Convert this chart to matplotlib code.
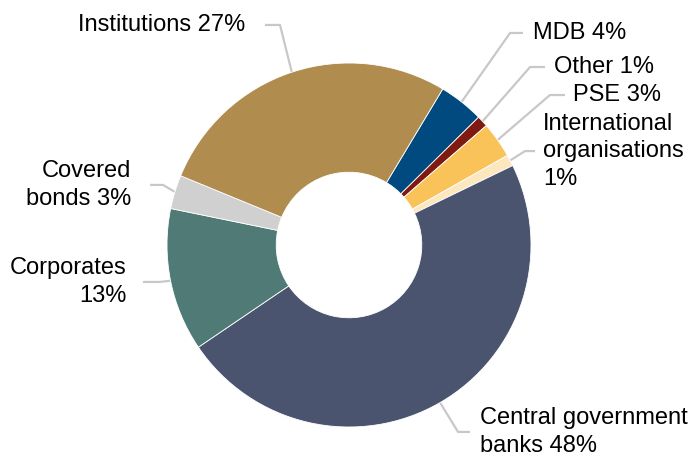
import numpy as np
from matplotlib import pyplot as plt

plt.rcParams['font.family'] = ['Liberation Sans', 'DejaVu Sans']

# clockwise from the top-right
categories = ['MDB', 'Other', 'PSE', 'International organisations', 'Central government banks',
              'Corporates', 'Covered bonds', 'Institutions']
shares = [4.0, 1.0, 3.2, 1.0, 47.7, 12.7, 3.0, 27.4]
labels = ['MDB 4%', 'Other 1%', 'PSE 3%', 'International\norganisations\n1%', 'Central government\nbanks 48%',
          'Corporates\n13%', 'Covered\nbonds 3%', 'Institutions 27%']
colors = ['#004A7F', '#7F1A12', '#F9C35A', '#FDE7BF', '#4A546E', '#507A76', '#D0D0D0', '#B08C4E']

# leader layout: elbow point, end of horizontal stub, text anchor x, alignment
layout = {
    'MDB': ((0.885, 1.165), 0.956, 1.011, 'left'),
    'Other': ((0.995, 0.978), 1.077, 1.126, 'left'),
    'PSE': ((1.104, 0.824), 1.187, 1.231, 'left'),
    'International organisations': ((0.967, 0.516), 1.022, 1.066, 'left'),
    'Central government banks': ((0.599, -1.027), 0.665, 0.720, 'left'),
    'Corporates': ((-1.038, -0.203), -1.132, -1.220, 'right'),
    'Covered bonds': ((-1.022, 0.330), -1.093, -1.198, 'right'),
    'Institutions': ((-0.379, 1.209), -0.462, -0.571, 'right'),
}

fig = plt.figure(figsize=(6.92, 4.58), dpi=100)
ax = fig.add_axes([0, 0, 1, 1])

wedges, _ = ax.pie(shares, colors=colors, startangle=59, counterclock=False,
                   radius=1, wedgeprops=dict(width=0.60, edgecolor='white', linewidth=0.6))

for w, cat, lab in zip(wedges, categories, labels):
    mid = np.deg2rad((w.theta1 + w.theta2) / 2)
    x0, y0 = np.cos(mid), np.sin(mid)
    (ex, ey), sx, tx, ha = layout[cat]
    ax.plot([x0, ex, sx], [y0, ey, ey], color='#C8C8C8', lw=1.6, solid_capstyle='butt', zorder=0)
    ax.text(tx, ey, lab, ha=ha, va='center', multialignment=ha, fontsize=17, color='black',
            linespacing=1.32)

ax.set_xlim(-349 / 182, (692 - 349) / 182)
ax.set_ylim((245 - 458) / 182, 245 / 182)
ax.set_aspect('equal')
ax.axis('off')

plt.savefig('out.png', dpi=100, facecolor='white')
